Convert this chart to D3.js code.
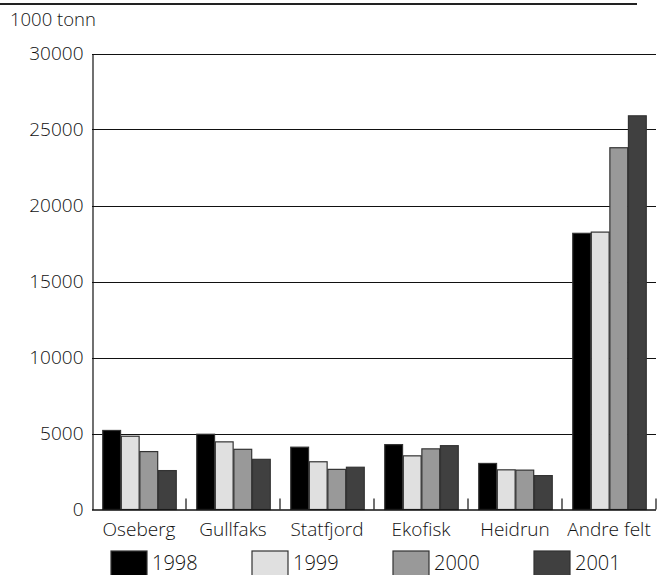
<!DOCTYPE html>
<html><head><meta charset="utf-8">
<script src="https://cdn.jsdelivr.net/npm/d3@7"></script>
<style>html,body{margin:0;padding:0;background:#fff}svg{display:block}text{font-family:"Open Sans",sans-serif;font-weight:300;fill:#111}</style>
</head><body><div id="chart"></div>
<script>
const categories = ["Oseberg","Gullfaks","Statfjord","Ekofisk","Heidrun","Andre felt"];
const years = ["1998","1999","2000","2001"];
const v1998 = [5200,4950,4100,4270,3030,18170];
const v1999 = [4820,4450,3140,3530,2610,18250];
const v2000 = [3810,3960,2640,3990,2590,23800];
const v2001 = [2560,3300,2780,4200,2230,25900];
const yTicks = [0,5000,10000,15000,20000,25000,30000];
const colors = ["#000000","#e0e0e0","#999999","#404040"];
const unitLabel = "1000 tonn";

(function(){
const series = [v1998,v1999,v2000,v2001];
const W=667,H=575;
const svg=d3.select("#chart").append("svg").attr("width",W).attr("height",H);
const mLeft=92,mRight=656,mTop=53.5,mBottom=509.5;
const x=d3.scaleBand().domain(categories).range([mLeft,mRight]).paddingInner(0).paddingOuter(0);
const xi=d3.scaleBand().domain(years).range([10,x.bandwidth()-9]).padding(0.04);
const y=d3.scaleLinear().domain([0,30000]).range([mBottom,mTop]);

svg.append("line").attr("x1",0).attr("x2",637).attr("y1",4).attr("y2",4).attr("stroke","#222").attr("stroke-width",2);
svg.append("text").attr("x",10).attr("y",26).attr("font-size",18.5).text(unitLabel);

svg.append("g").selectAll("line").data(yTicks.filter(d=>d>0)).join("line")
  .attr("x1",mLeft).attr("x2",mRight).attr("y1",d=>Math.round(y(d))+0.5).attr("y2",d=>Math.round(y(d))+0.5)
  .attr("stroke","#111").attr("stroke-width",1.2);

const ya=svg.append("g").attr("transform",`translate(${mLeft+0.5},0)`)
  .call(d3.axisLeft(y).tickValues(yTicks).tickSize(0).tickPadding(9).tickFormat(d3.format("d")));
ya.select(".domain").attr("stroke","#111").attr("stroke-width",1.2);
ya.selectAll("text").attr("font-size",19).attr("font-family","Open Sans, sans-serif").attr("fill","#111");

const g=svg.append("g");
categories.forEach((c,i)=>{
  series.forEach((s,j)=>{
    g.append("rect").attr("x",x(c)+xi(years[j])).attr("width",xi.bandwidth())
      .attr("y",y(s[i])).attr("height",mBottom-y(s[i]))
      .attr("fill",colors[j]).attr("stroke","#333").attr("stroke-width",1.2);
  });
});

const xa=svg.append("g").attr("transform",`translate(0,${mBottom})`);
xa.append("line").attr("x1",mLeft).attr("x2",mRight).attr("y1",0.5).attr("y2",0.5).attr("stroke","#111").attr("stroke-width",1.4);
xa.selectAll(".tk").data(categories).join("line").attr("class","tk")
  .attr("x1",d=>x(d)+x.bandwidth()).attr("x2",d=>x(d)+x.bandwidth()).attr("y1",0).attr("y2",-11)
  .attr("stroke","#111").attr("stroke-width",1.2);
xa.selectAll("text").data(categories).join("text")
  .attr("x",d=>x(d)+x.bandwidth()/2).attr("y",26).attr("text-anchor","middle").attr("font-size",19).text(d=>d);

const lg=svg.append("g");
years.forEach((yr,j)=>{
  const lx=111+j*141;
  lg.append("rect").attr("x",lx).attr("y",551).attr("width",36).attr("height",26)
    .attr("fill",colors[j]).attr("stroke","#333").attr("stroke-width",1.2);
  lg.append("text").attr("x",lx+41).attr("y",570).attr("font-size",20).text(yr);
});
})();
</script></body></html>
